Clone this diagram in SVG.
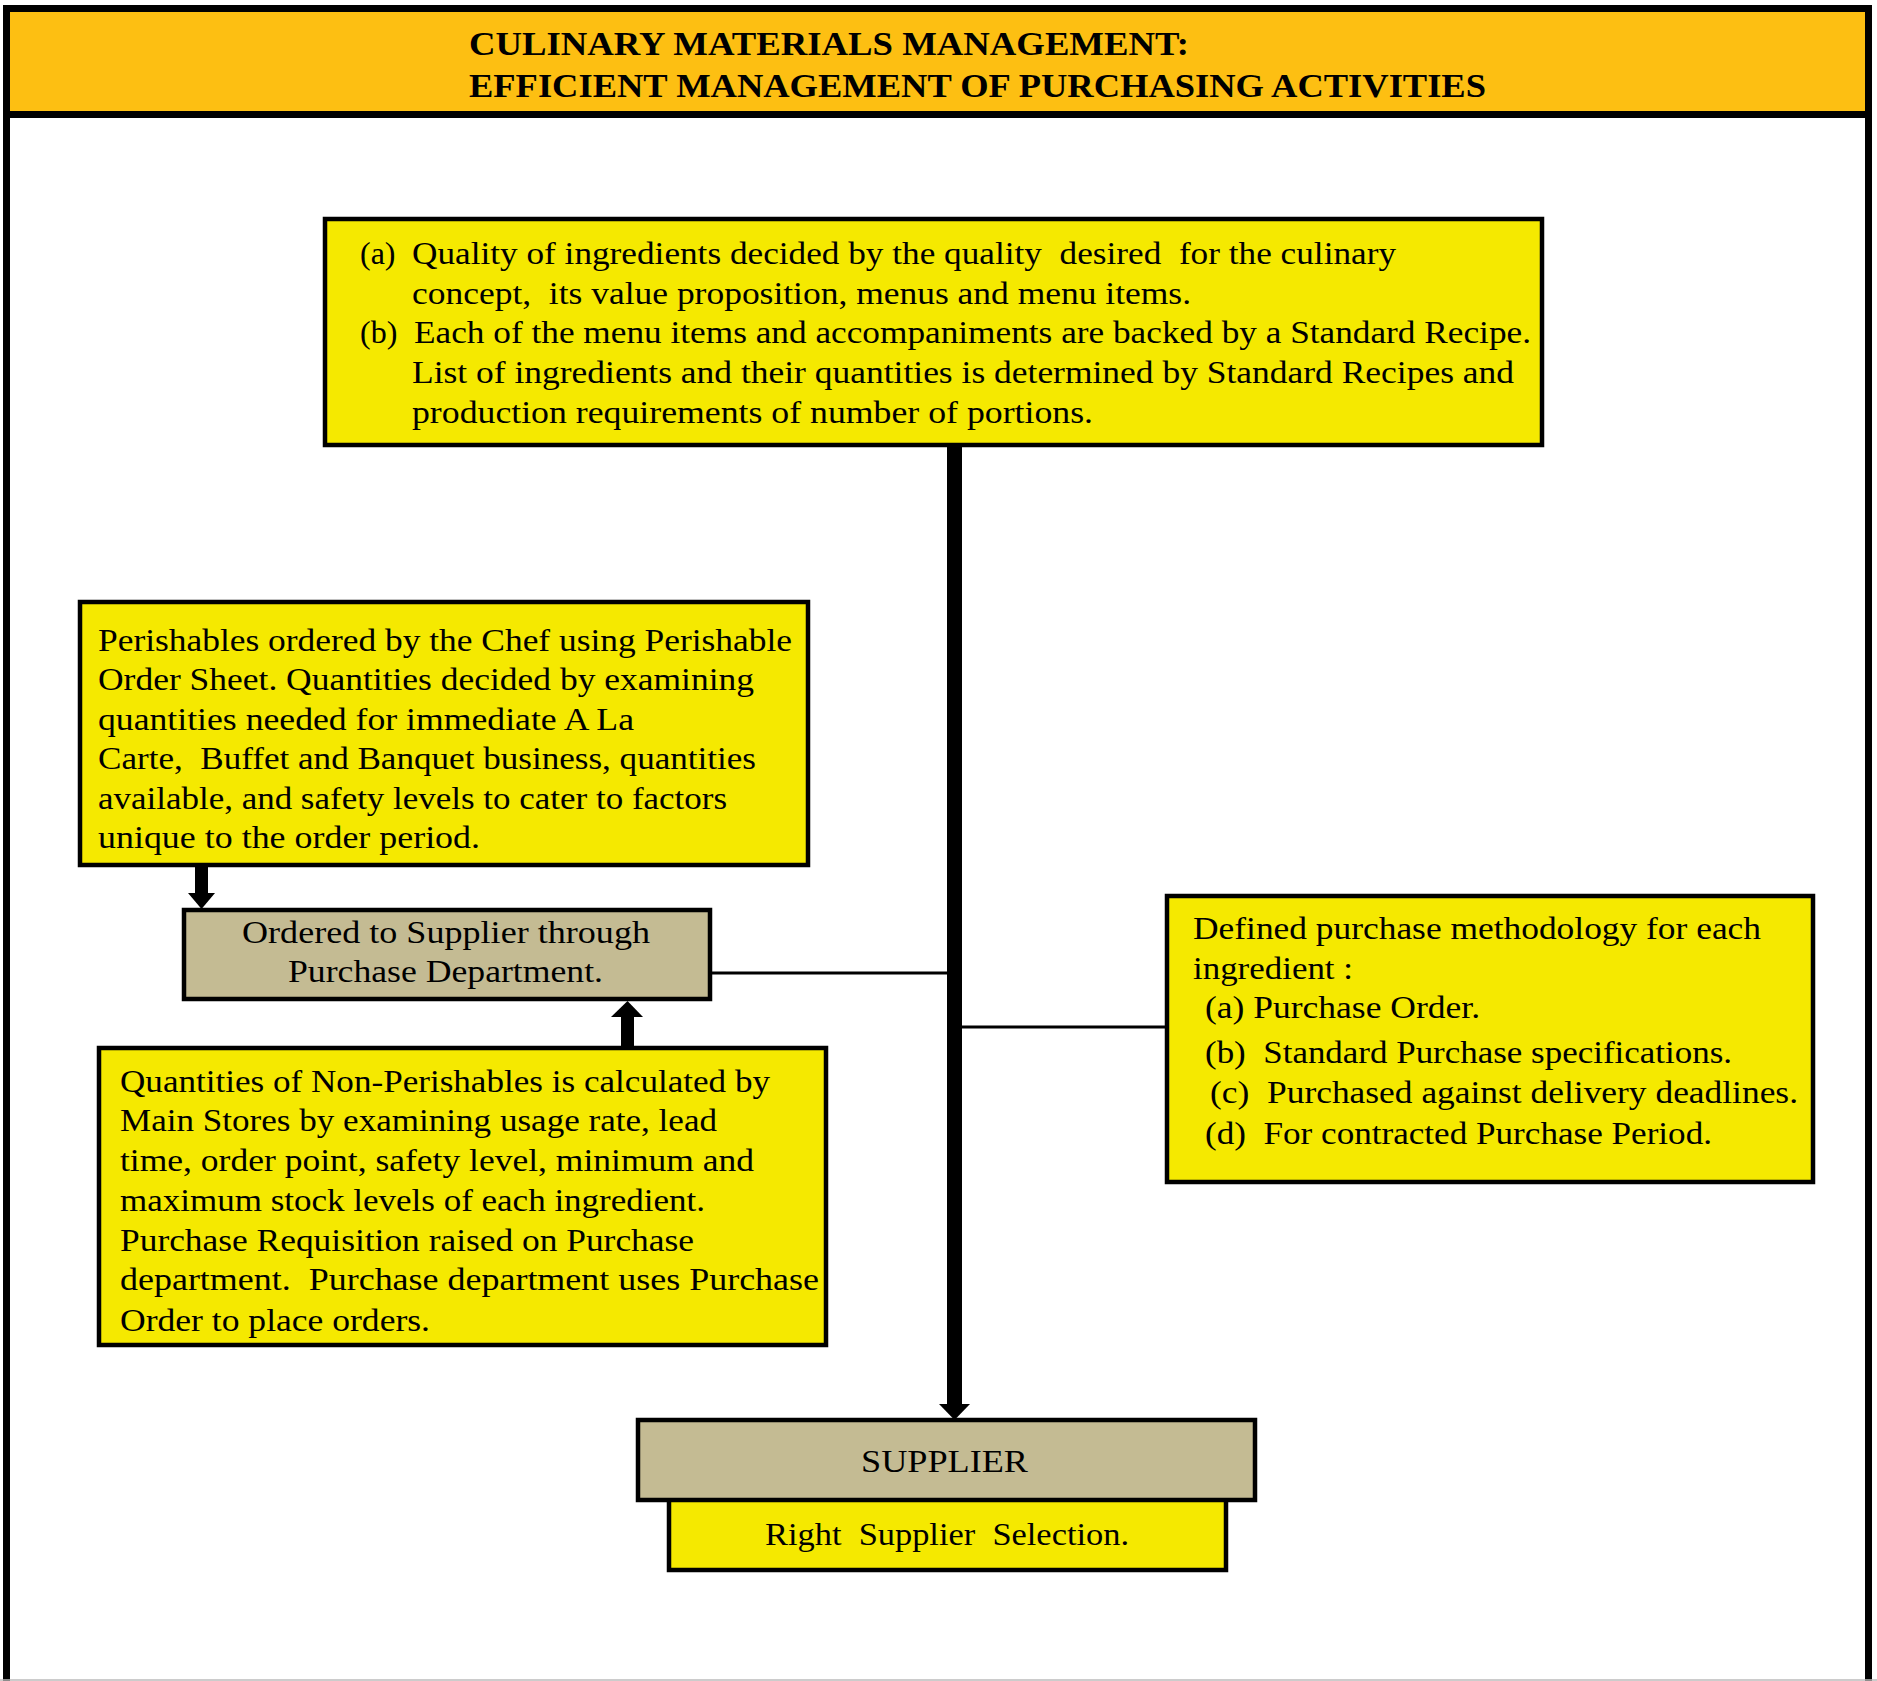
<svg xmlns="http://www.w3.org/2000/svg" width="1877" height="1681" viewBox="0 0 1877 1681">
  <style>
    .frame { fill: none; stroke: #000; stroke-width: 7; }
    .yellow { fill: #F5E900; stroke: #000; stroke-width: 4.5; }
    .tan { fill: #C4BB93; stroke: #000; stroke-width: 4.5; }
    .t { font-family: "Liberation Serif", "Times New Roman", serif; font-size: 32px; fill: #000; white-space: pre; }
    .title { font-family: "Liberation Serif", "Times New Roman", serif; font-size: 34px; font-weight: bold; fill: #000; }
    .bar { fill: #000; }
    .link { stroke: #000; stroke-width: 3; fill: none; }
  </style>

  <!-- page frame -->
  <rect x="0" y="0" width="1877" height="1681" fill="#fff"/>
  <path class="frame" d="M6.5 1681 V8.5 H1868.5 V1681"/>
  <line x1="0" y1="1680" x2="1877" y2="1680" stroke="#bbb" stroke-width="1.5"/>

  <!-- title banner -->
  <g id="header">
    <rect x="6.5" y="8.5" width="1862" height="106" fill="#FDBF12" stroke="#000" stroke-width="7"/>
    <text class="title" x="469" y="55" textLength="720" lengthAdjust="spacingAndGlyphs">CULINARY MATERIALS MANAGEMENT:</text>
    <text class="title" x="469" y="97" textLength="1017" lengthAdjust="spacingAndGlyphs">EFFICIENT MANAGEMENT OF PURCHASING ACTIVITIES</text>
  </g>

  <!-- connectors -->
  <g id="connectors">
    <rect class="bar" x="947" y="446" width="15" height="960"/>
    <polygon class="bar" points="939,1404 970,1404 954.5,1420"/>
    <line class="link" x1="710" y1="973" x2="947" y2="973"/>
    <line class="link" x1="962" y1="1027" x2="1166" y2="1027"/>
    <rect class="bar" x="195" y="866" width="13" height="28"/>
    <polygon class="bar" points="188,893 215,893 201.5,909"/>
    <rect class="bar" x="621" y="1016" width="13" height="31"/>
    <polygon class="bar" points="611,1017 643,1017 627.5,1001"/>
  </g>

  <g id="quality">
    <rect class="yellow" x="325" y="219" width="1217" height="226"/>
    <text class="t" x="360" y="264">(a)</text>
    <text class="t" x="412" y="264" textLength="984" lengthAdjust="spacingAndGlyphs">Quality of ingredients decided by the quality  desired  for the culinary</text>
    <text class="t" x="412" y="304" textLength="779" lengthAdjust="spacingAndGlyphs">concept,  its value proposition, menus and menu items.</text>
    <text class="t" x="360" y="343">(b)</text>
    <text class="t" x="414" y="343" textLength="1117" lengthAdjust="spacingAndGlyphs">Each of the menu items and accompaniments are backed by a Standard Recipe.</text>
    <text class="t" x="412" y="383" textLength="1102" lengthAdjust="spacingAndGlyphs">List of ingredients and their quantities is determined by Standard Recipes and</text>
    <text class="t" x="412" y="423" textLength="681" lengthAdjust="spacingAndGlyphs">production requirements of number of portions.</text>
  </g>

  <g id="perishables">
    <rect class="yellow" x="80" y="602" width="728" height="263"/>
    <text class="t" x="98" y="651" textLength="694" lengthAdjust="spacingAndGlyphs">Perishables ordered by the Chef using Perishable</text>
    <text class="t" x="98" y="690" textLength="656" lengthAdjust="spacingAndGlyphs">Order Sheet. Quantities decided by examining</text>
    <text class="t" x="98" y="730" textLength="536" lengthAdjust="spacingAndGlyphs">quantities needed for immediate A La</text>
    <text class="t" x="98" y="769" textLength="658" lengthAdjust="spacingAndGlyphs">Carte,  Buffet and Banquet business, quantities</text>
    <text class="t" x="98" y="809" textLength="629" lengthAdjust="spacingAndGlyphs">available, and safety levels to cater to factors</text>
    <text class="t" x="98" y="848" textLength="382" lengthAdjust="spacingAndGlyphs">unique to the order period.</text>
  </g>

  <g id="ordered">
    <rect class="tan" x="184" y="910" width="526" height="89"/>
    <text class="t" x="242" y="943" textLength="408" lengthAdjust="spacingAndGlyphs">Ordered to Supplier through</text>
    <text class="t" x="288" y="982" textLength="315" lengthAdjust="spacingAndGlyphs">Purchase Department.</text>
  </g>

  <g id="non-perishables">
    <rect class="yellow" x="99" y="1048" width="727" height="297"/>
    <text class="t" x="120" y="1092" textLength="650" lengthAdjust="spacingAndGlyphs">Quantities of Non-Perishables is calculated by</text>
    <text class="t" x="120" y="1131" textLength="597" lengthAdjust="spacingAndGlyphs">Main Stores by examining usage rate, lead</text>
    <text class="t" x="120" y="1171" textLength="634" lengthAdjust="spacingAndGlyphs">time, order point, safety level, minimum and</text>
    <text class="t" x="120" y="1211" textLength="585" lengthAdjust="spacingAndGlyphs">maximum stock levels of each ingredient.</text>
    <text class="t" x="120" y="1251" textLength="574" lengthAdjust="spacingAndGlyphs">Purchase Requisition raised on Purchase</text>
    <text class="t" x="120" y="1290" textLength="699" lengthAdjust="spacingAndGlyphs">department.  Purchase department uses Purchase</text>
    <text class="t" x="120" y="1331" textLength="310" lengthAdjust="spacingAndGlyphs">Order to place orders.</text>
  </g>

  <g id="methodology">
    <rect class="yellow" x="1167" y="896" width="646" height="286"/>
    <text class="t" x="1193" y="939" textLength="568" lengthAdjust="spacingAndGlyphs">Defined purchase methodology for each</text>
    <text class="t" x="1193" y="979" textLength="160" lengthAdjust="spacingAndGlyphs">ingredient :</text>
    <text class="t" x="1205" y="1018" textLength="275" lengthAdjust="spacingAndGlyphs">(a) Purchase Order.</text>
    <text class="t" x="1205" y="1063" textLength="527" lengthAdjust="spacingAndGlyphs">(b)  Standard Purchase specifications.</text>
    <text class="t" x="1210" y="1103" textLength="588" lengthAdjust="spacingAndGlyphs">(c)  Purchased against delivery deadlines.</text>
    <text class="t" x="1205" y="1144" textLength="507" lengthAdjust="spacingAndGlyphs">(d)  For contracted Purchase Period.</text>
  </g>

  <g id="selection">
    <rect class="yellow" x="669" y="1498" width="557" height="72" stroke-width="5"/>
    <text class="t" x="765" y="1545" textLength="364" lengthAdjust="spacingAndGlyphs">Right  Supplier  Selection.</text>
  </g>

  <g id="supplier">
    <rect class="tan" x="638" y="1420" width="617" height="80" stroke-width="5"/>
    <text class="t" x="861" y="1472" font-size="35" textLength="167" lengthAdjust="spacingAndGlyphs">SUPPLIER</text>
  </g>
</svg>
